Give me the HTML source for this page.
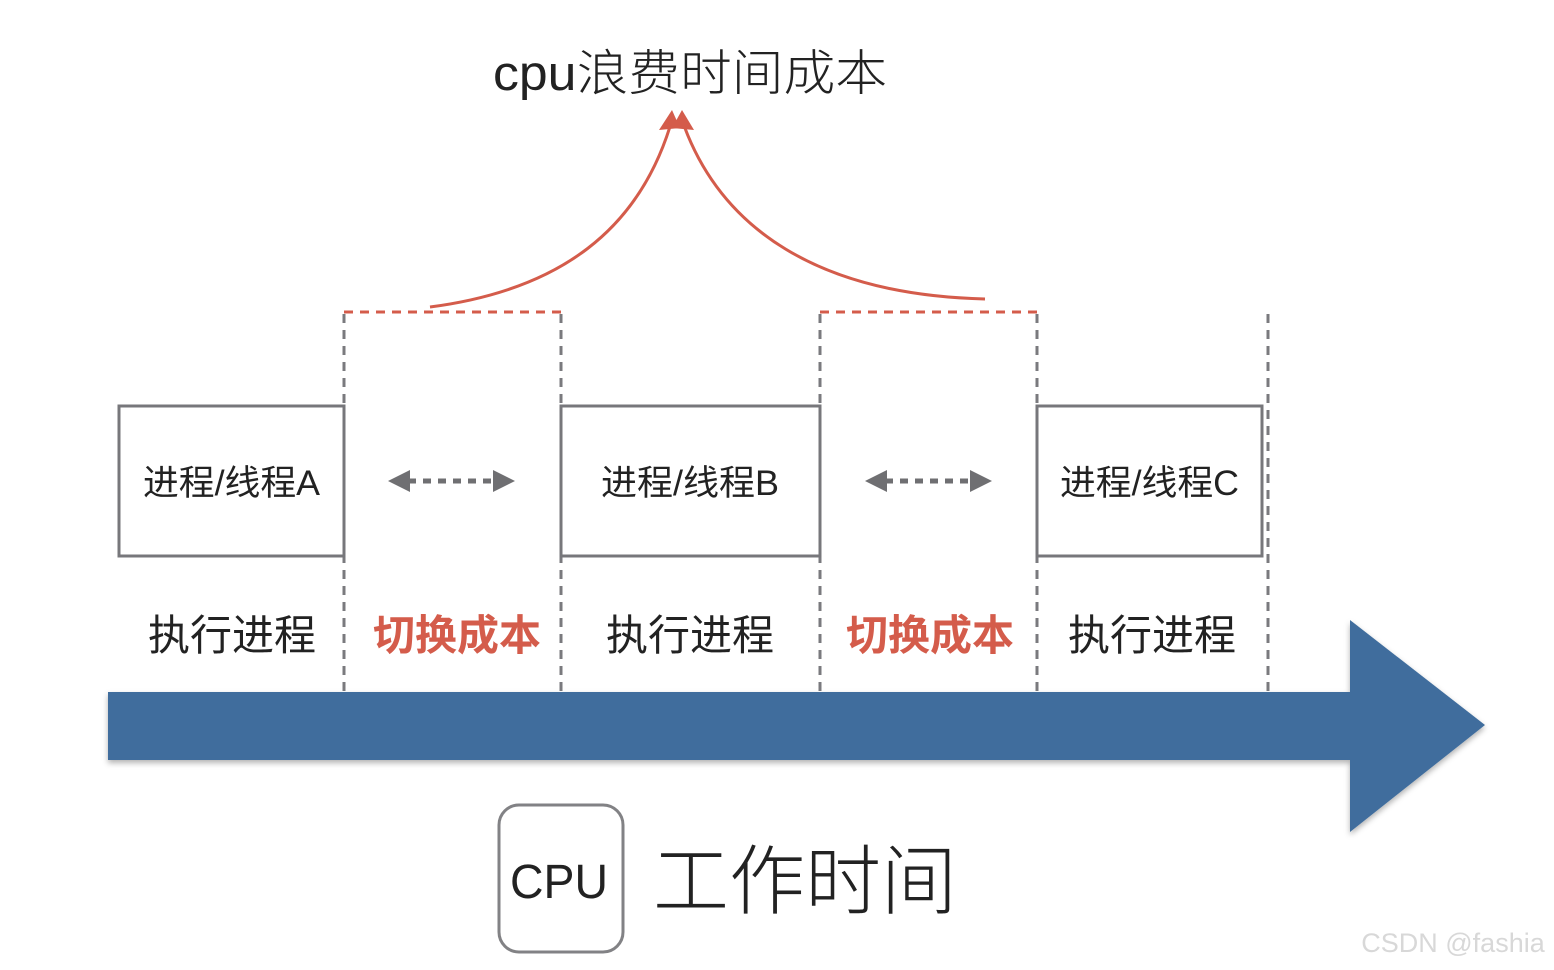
<!DOCTYPE html>
<html><head><meta charset="utf-8"><style>
html,body{margin:0;padding:0;background:#fff;}
svg{display:block;}
text{font-family:"Liberation Sans","Noto Sans CJK SC",sans-serif;}
</style></head><body>
<svg width="1554" height="970" viewBox="0 0 1554 970" xmlns="http://www.w3.org/2000/svg">
<defs>
<filter id="sh" x="-5%" y="-5%" width="110%" height="120%"><feDropShadow dx="0" dy="3" stdDeviation="3" flood-color="#000" flood-opacity="0.3"/></filter>
</defs>
<text x="493" y="90" font-size="49" fill="#222" font-weight="300" textLength="394" lengthAdjust="spacingAndGlyphs">cpu浪费时间成本</text>
<path d="M430,307 C560,290 640,230 672,120" fill="none" stroke="#d45c4b" stroke-width="3"/>
<path d="M985,299 C820,295 720,230 682,120" fill="none" stroke="#d45c4b" stroke-width="3"/>
<polygon points="659,130 672,110 680,128" fill="#d45c4b"/>
<polygon points="672,128 682,110 694,130" fill="#d45c4b"/>
<g stroke="#d45c4b" stroke-width="3" stroke-dasharray="9,7">
<line x1="344" y1="312" x2="561" y2="312"/>
<line x1="820" y1="312" x2="1037" y2="312"/>
</g>
<g stroke="#7a7a7e" stroke-width="3" stroke-dasharray="9,7">
<line x1="344" y1="314" x2="344" y2="692"/>
<line x1="561" y1="314" x2="561" y2="692"/>
<line x1="820" y1="314" x2="820" y2="692"/>
<line x1="1037" y1="314" x2="1037" y2="692"/>
<line x1="1268" y1="314" x2="1268" y2="692"/>
</g>
<g fill="#fff" stroke="#77777b" stroke-width="3">
<rect x="119" y="406" width="225" height="150"/>
<rect x="561" y="406" width="259" height="150"/>
<rect x="1037" y="406" width="225" height="150"/>
</g>
<g font-size="35" fill="#222">
<text x="143" y="495" textLength="177" lengthAdjust="spacingAndGlyphs">进程/线程A</text>
<text x="601" y="495" textLength="178" lengthAdjust="spacingAndGlyphs">进程/线程B</text>
<text x="1060" y="495" textLength="179" lengthAdjust="spacingAndGlyphs">进程/线程C</text>
</g>
<g fill="#6f6f72">
<polygon points="388,481 410,470 410,492"/><polygon points="515,481 493,470 493,492"/>
<polygon points="865,481 887,470 887,492"/><polygon points="992,481 970,470 970,492"/>
</g>
<g stroke="#6f6f72" stroke-width="5" stroke-dasharray="8,7">
<line x1="408" y1="481" x2="495" y2="481"/>
<line x1="885" y1="481" x2="972" y2="481"/>
</g>
<g font-size="42" text-anchor="middle">
<text x="232" y="650" fill="#222">执行进程</text>
<text x="457" y="650" fill="#d45c4b" font-weight="bold">切换成本</text>
<text x="690" y="650" fill="#222">执行进程</text>
<text x="930" y="650" fill="#d45c4b" font-weight="bold">切换成本</text>
<text x="1152" y="650" fill="#222">执行进程</text>
</g>
<polygon points="108,692 1350,692 1350,620 1485,725 1350,832 1350,760 108,760" fill="#3f6d9d" filter="url(#sh)"/>
<rect x="499" y="805" width="124" height="147" rx="20" fill="#fff" stroke="#828285" stroke-width="3"/>
<text x="510" y="898" font-size="48" fill="#222" textLength="98" lengthAdjust="spacingAndGlyphs">CPU</text>
<text x="805" y="908" font-size="76" fill="#222" text-anchor="middle" font-weight="300">工作时间</text>
<text x="1453" y="952" font-size="27" fill="#d8d8d8" text-anchor="middle">CSDN @fashia</text>
</svg>
</body></html>
